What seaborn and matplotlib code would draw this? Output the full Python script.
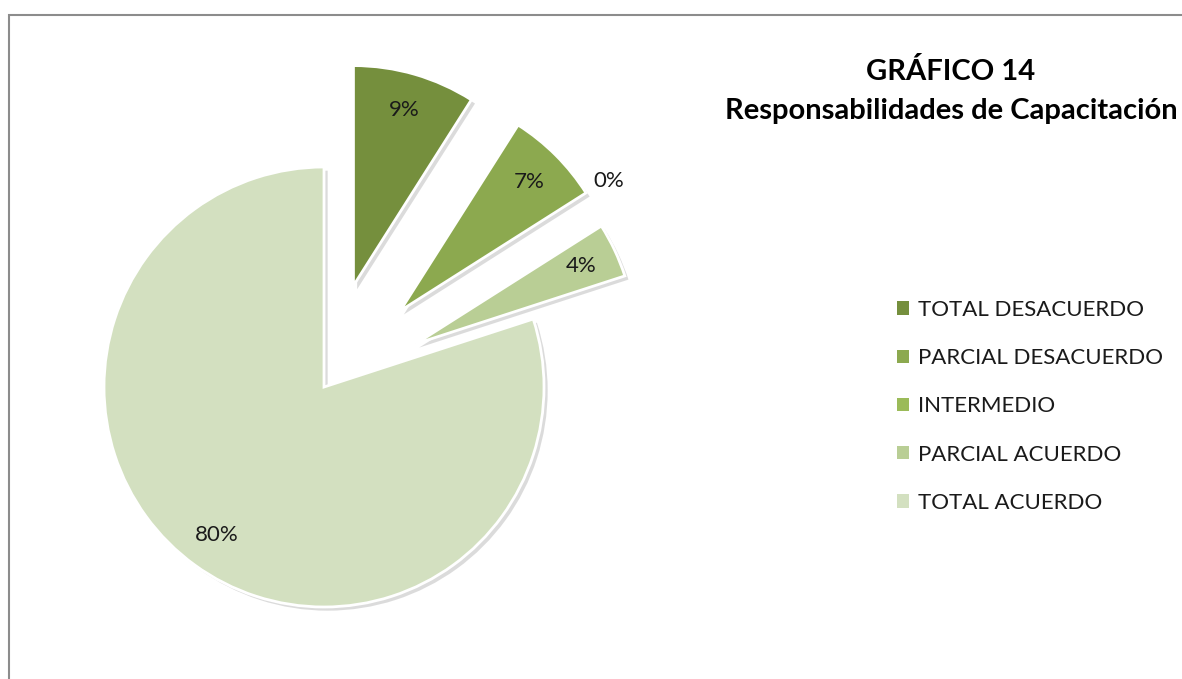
import numpy as np
import matplotlib
matplotlib.use("Agg")
import matplotlib.pyplot as plt
import seaborn as sns
from matplotlib.patches import Rectangle, Patch

categories = ["TOTAL DESACUERDO", "PARCIAL DESACUERDO", "INTERMEDIO",
              "PARCIAL ACUERDO", "TOTAL ACUERDO"]
values = [9, 7, 0, 4, 80]
pct_labels = ["9%", "7%", "0%", "4%", "80%"]
colors = ["#758F3D", "#8CA94F", "#9BBB59", "#B9CE95", "#D3E0C0"]
explode = [0.48, 0.49, 0.48, 0.46, 0.0]
title_lines = ["GRÁFICO 14", "Responsabilidades de Capacitación"]

sns.set_theme(style="white")
plt.rcParams['font.family'] = ['Lato', 'DejaVu Sans']

W, H = 1182, 679
fig = plt.figure(figsize=(W / 100, H / 100), dpi=100)

# border
fig.patches.append(Rectangle((9 / W, -0.05), 1.2, 1 - 15 / H + 0.05,
                             transform=fig.transFigure, fill=False,
                             edgecolor="#8c8c8c", linewidth=1.5))

R = 220.0
cx, cy = 324.0, H - 387.0
xl, xr, yb, yt = -1.4, 1.9, -1.2, 1.6
ax = fig.add_axes([(cx + xl * R) / W, (cy + yb * R) / H,
                   (xr - xl) * R / W, (yt - yb) * R / H])

wedges, texts = ax.pie(values, colors=colors, explode=explode, startangle=90,
                       counterclock=False,
                       wedgeprops=dict(edgecolor="white", linewidth=2),
                       shadow=dict(ox=0.012, oy=-0.012, facecolor="#c4c4c4",
                                   edgecolor="none", alpha=0.6))
for w, lab, ex, v in zip(wedges, pct_labels, explode, values):
    ang = np.deg2rad((w.theta1 + w.theta2) / 2)
    if v == 0:
        d = 1.6
        ang = np.deg2rad(w.theta1 + 3.5)
    else:
        d = ex + 0.83
    ax.text(d * np.cos(ang), d * np.sin(ang), lab, ha="center",
            va="center", fontsize=16, color="#1a1a1a")
ax.set_xlim(xl, xr)
ax.set_ylim(yb, yt)
ax.set_aspect("equal")
ax.axis("off")

fig.text(951 / W, 1 - 72 / H, title_lines[0], ha="center", va="center",
         fontsize=21, fontweight="bold", color="black")
fig.text(951 / W, 1 - 111 / H, title_lines[1], ha="center", va="center",
         fontsize=21, fontweight="bold", color="black")

handles = [Patch(facecolor=c, edgecolor="none") for c in colors]
leg = fig.legend(handles, categories, loc="upper left",
                 bbox_to_anchor=(888 / W, 1 - 291 / H), frameon=False,
                 fontsize=16, handlelength=0.55, handleheight=0.55,
                 handletextpad=0.4, labelspacing=1.27, borderaxespad=0)
for t in leg.get_texts():
    t.set_color("#1a1a1a")

fig.savefig("out.png", dpi=100)
